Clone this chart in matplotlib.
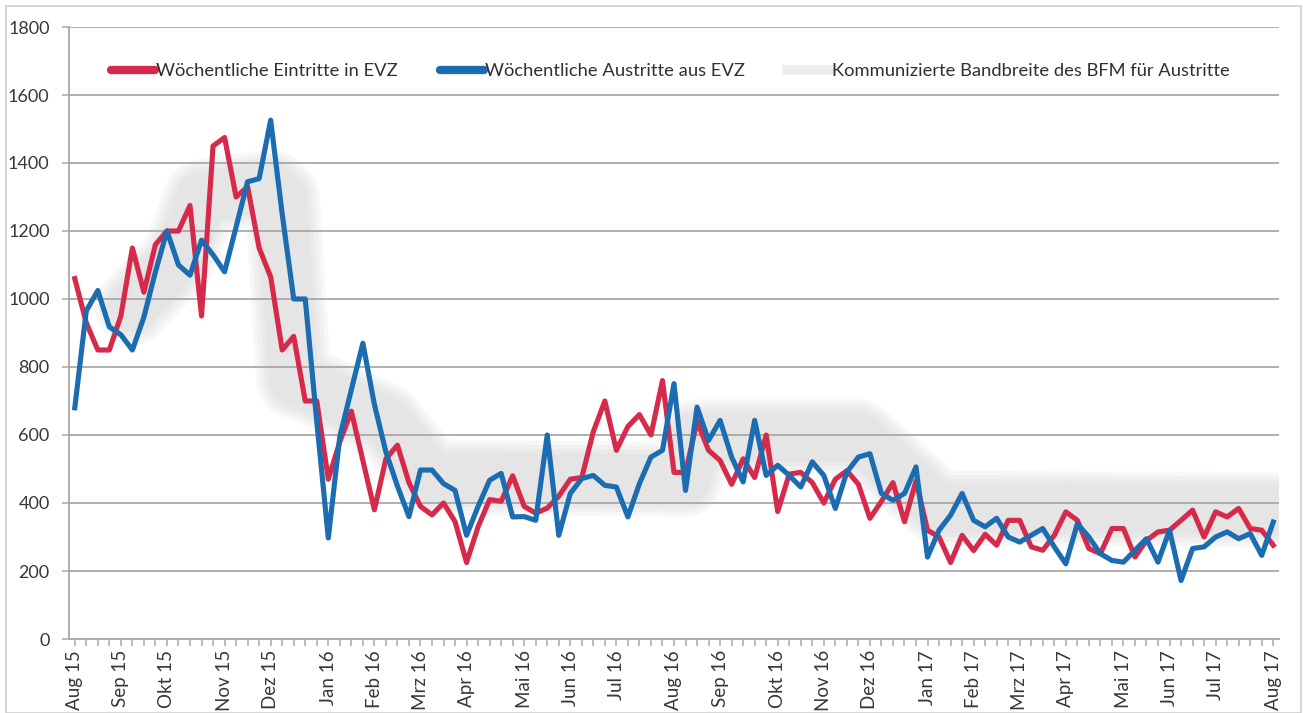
import matplotlib.pyplot as plt
from matplotlib.lines import Line2D
from matplotlib.patches import Rectangle

plt.rcParams['font.family'] = ['Lato', 'DejaVu Sans']

# month labels sit on the week that holds the 1st of the month
month_labels = ["Aug 15", "Sep 15", "Okt 15", "Nov 15", "Dez 15", "Jan 16", "Feb 16", "Mrz 16",
                "Apr 16", "Mai 16", "Jun 16", "Jul 16", "Aug 16", "Sep 16", "Okt 16", "Nov 16",
                "Dez 16", "Jan 17", "Feb 17", "Mrz 17", "Apr 17", "Mai 17", "Jun 17", "Jul 17", "Aug 17"]
month_weeks = [0, 4, 8, 13, 17, 22, 26, 30, 34, 39, 43, 47, 52, 56, 61, 65, 69, 74, 78, 82, 86, 91, 95, 99, 104]

# weekly values
eintritte = [1060, 930, 850, 850, 950, 1150, 1020, 1160, 1200, 1200,
             1275, 950, 1450, 1475, 1300, 1330, 1150, 1065, 850, 890,
             700, 700, 470, 580, 670, 525, 380, 530, 570, 460,
             390, 365, 400, 345, 225, 330, 410, 405, 480, 390,
             370, 385, 420, 470, 475, 610, 700, 555, 625, 660,
             600, 760, 490, 490, 640, 555, 525, 455, 530, 475,
             600, 375, 485, 490, 460, 400, 470, 495, 455, 355,
             405, 460, 345, 465, 320, 300, 225, 305, 260, 308,
             276, 349, 349, 271, 261, 305, 374, 349, 266, 251,
             325, 325, 241, 290, 315, 320, 349, 379, 300, 374,
             359, 384, 325, 320, 276]
austritte = [680, 965, 1025, 918, 895, 850, 947, 1080, 1200, 1100,
             1070, 1173, 1130, 1080, 1212, 1345, 1354, 1526, 1250, 1000,
             1000, 640, 297, 595, 733, 870, 690, 550, 450, 360,
             497, 497, 457, 437, 305, 390, 467, 487, 359, 360,
             349, 600, 305, 428, 472, 481, 452, 447, 359, 457,
             535, 555, 751, 437, 682, 584, 643, 535, 462, 643,
             481, 511, 481, 447, 521, 481, 384, 491, 535, 545,
             428, 408, 428, 506, 241, 320, 364, 428, 349, 330,
             355, 300, 285, 305, 325, 271, 221, 339, 300, 251,
             231, 226, 261, 295, 226, 320, 172, 266, 271, 300,
             315, 295, 310, 246, 344]

# corner points of the communicated BFM range (drawn as a broad soft line)
band_weeks = [5, 9, 11, 17, 18, 19, 22, 27, 31, 53, 54, 68, 75, 104]
band_values = [975, 1120, 1300, 1330, 1300, 760, 720, 640, 475, 470, 595, 595, 385, 380]

red = '#d62a4b'
blue = '#1b6cb0'
grid_col = '#a8a8a8'

weeks = list(range(len(eintritte)))

fig = plt.figure(figsize=(13.03, 7.13), dpi=100)
ax = fig.add_axes([69 / 1303, 1 - 639 / 713, (1279 - 69) / 1303, 612 / 713])

# stacked strokes to fake the blurred edge of the band
for lw, a in [(54, 0.25), (48, 0.3), (42, 0.4), (36, 0.6)]:
    ax.plot(band_weeks, band_values, color='#e3e3e3', lw=lw, alpha=a,
            solid_capstyle='round', solid_joinstyle='round', zorder=1)

ax.plot(weeks, eintritte, color=red, lw=3.7, solid_joinstyle='round', zorder=4)
ax.plot(weeks, austritte, color=blue, lw=3.7, solid_joinstyle='round', zorder=5)

ax.set_xlim(-0.5, 104.5)
ax.set_ylim(0, 1800)
ax.set_yticks(range(0, 1801, 200))
ax.set_xticks(weeks, minor=True)
ax.set_xticks(month_weeks, month_labels, rotation=90)

ax.set_axisbelow('line')
ax.yaxis.grid(True, color=grid_col, lw=1.3)
for side in ['top', 'right']:
    ax.spines[side].set_visible(False)
for side in ['left', 'bottom']:
    ax.spines[side].set_color(grid_col)
    ax.spines[side].set_linewidth(1.3)

ax.tick_params(axis='both', which='both', length=5, color=grid_col, width=1.1,
               labelcolor='#383838')
ax.tick_params(axis='x', pad=3, labelsize=13.5)
ax.tick_params(axis='y', pad=9, labelsize=13)

handles = [Line2D([], [], color=red, lw=6, solid_capstyle='round'),
           Line2D([], [], color=blue, lw=6, solid_capstyle='round'),
           Line2D([], [], color='#ececec', lw=7)]
labels = ["Wöchentliche Eintritte in EVZ", "Wöchentliche Austritte aus EVZ",
          "Kommunizierte Bandbreite des BFM für Austritte"]
leg = ax.legend(handles, labels, loc='center', bbox_to_anchor=(0.497, 0.928), ncol=3,
                frameon=False, fontsize=13.2, handlelength=2.4, handletextpad=0.05,
                columnspacing=2.3)
for t in leg.get_texts():
    t.set_color('#303030')

# light border round the chart area
fig.patches.append(Rectangle((6 / 1303, 0), 1295 / 1303, 1 - 6 / 713, transform=fig.transFigure,
                             fill=False, ec='#cfcfcf', lw=1.2))

fig.savefig('out.png', dpi=100)
